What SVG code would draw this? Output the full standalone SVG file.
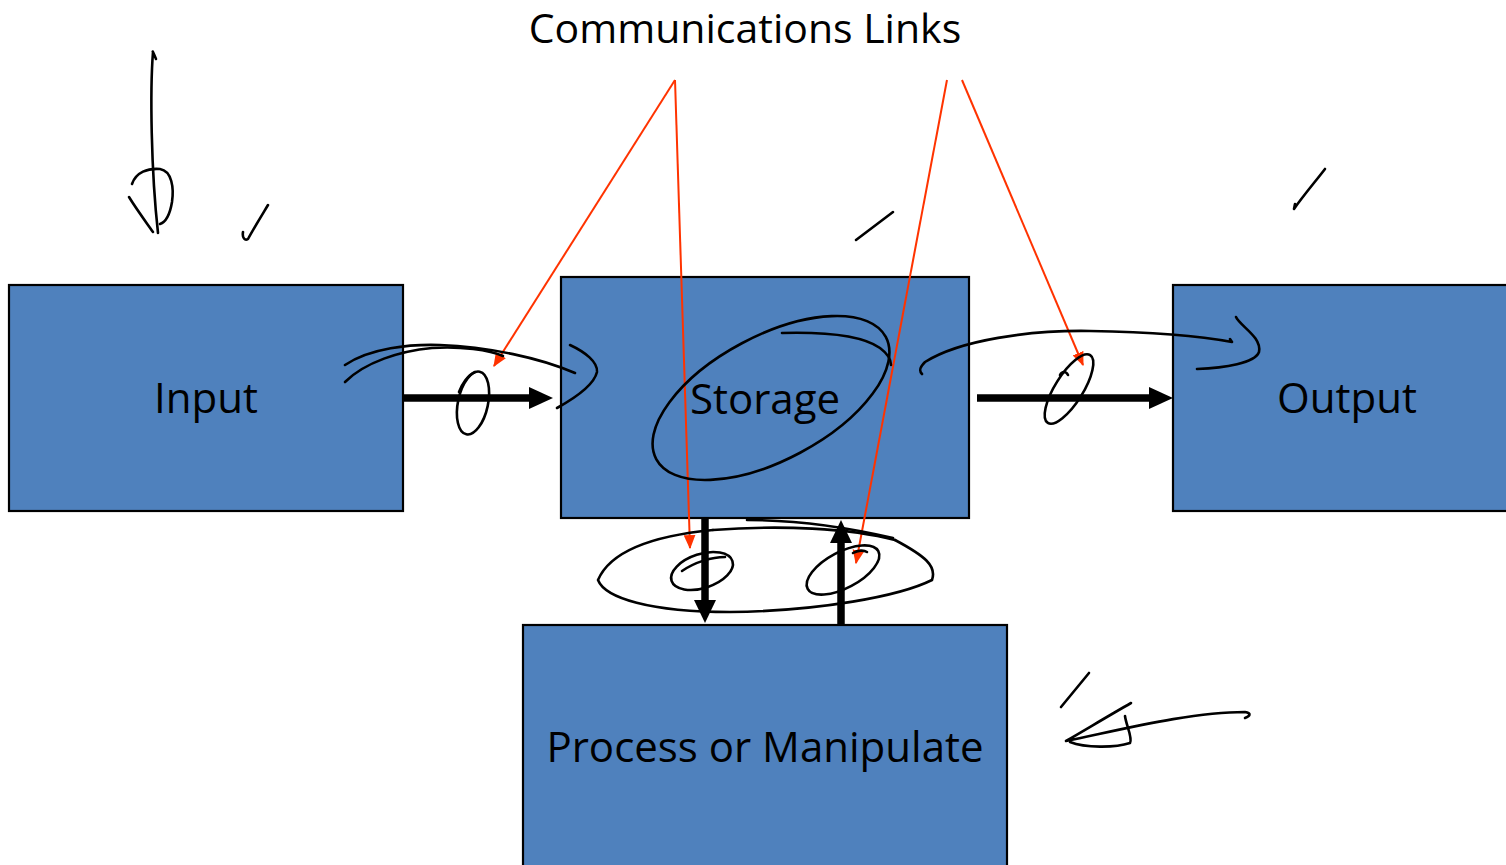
<svg xmlns="http://www.w3.org/2000/svg" width="1506" height="865" viewBox="0 0 1506 865">
  <style>
    .box { fill: #4F81BD; stroke: #000; stroke-width: 2.2; }
    .label { font-family: "Open Sans", "Liberation Sans", sans-serif; font-size: 42px; fill: #000; text-anchor: middle; }
    .title { font-family: "Open Sans", "Liberation Sans", sans-serif; font-size: 41px; fill: #000; text-anchor: middle; }
    .flow { stroke: #000; stroke-width: 7.5; fill: none; }
    .head { fill: #000; }
    .link { stroke: #FF3300; stroke-width: 2; fill: none; marker-end: url(#redhead); }
    .ink { stroke: #000; stroke-width: 2.6; fill: none; stroke-linecap: round; stroke-linejoin: round; }
  </style>
  <defs>
    <marker id="redhead" viewBox="0 0 12 10" refX="11" refY="5" markerWidth="7" markerHeight="6" markerUnits="strokeWidth" orient="auto">
      <path d="M0,0 L12,5 L0,10 Z" fill="#FF3300"/>
    </marker>
  </defs>
  <rect width="1506" height="865" fill="#fff"/>

  <g id="title">
    <text class="title" x="745" y="43">Communications Links</text>
  </g>

  <g id="input">
    <rect class="box" x="9" y="285" width="394" height="226"/>
    <text class="label" x="206" y="413">Input</text>
  </g>
  <g id="storage">
    <rect class="box" x="561" y="277" width="408" height="241"/>
    <text class="label" x="765" y="414">Storage</text>
  </g>
  <g id="output">
    <rect class="box" x="1173" y="285" width="340" height="226"/>
    <text class="label" x="1347" y="413">Output</text>
  </g>
  <g id="process">
    <rect class="box" x="523" y="625" width="484" height="250"/>
    <text class="label" x="765" y="762">Process or Manipulate</text>
  </g>

  <g id="connectors">
    <!-- data flow arrows -->
    <line class="flow" x1="403" y1="398" x2="531" y2="398"/>
    <path class="head" d="M529,387 L553,398 L529,409 Z"/>
    <line class="flow" x1="977" y1="398" x2="1151" y2="398"/>
    <path class="head" d="M1149,387 L1173,398 L1149,409 Z"/>
    <line class="flow" x1="705" y1="518" x2="705" y2="602"/>
    <path class="head" d="M694,600 L705,623 L716,600 Z"/>
    <line class="flow" x1="841" y1="625" x2="841" y2="541"/>
    <path class="head" d="M830,543 L841,520 L852,543 Z"/>
    <!-- callout lines -->
    <line class="link" x1="675" y1="80" x2="494" y2="366"/>
    <line class="link" x1="675" y1="80" x2="690" y2="548"/>
    <line class="link" x1="947" y1="80" x2="856" y2="563"/>
    <line class="link" x1="962" y1="80" x2="1083" y2="365"/>
  </g>

  <g id="annotations">
    <!-- top-left pen stroke -->
    <path class="ink" d="M156,59 C154,54 152,50 153,52 C150,90 151,170 158,233"/>
    <path class="ink" d="M132,184 C136,172 148,168 160,169 C172,171 174,188 172,202 C170,214 166,222 160,224"/>
    <path class="ink" d="M129,197 C137,210 146,222 153,232"/>
    <path class="ink" d="M243,232 C242,238 245,241 248,239 C254,228 262,215 268,205"/>
    <!-- ticks -->
    <path class="ink" d="M856,240 L893,212"/>
    <path class="ink" d="M1325,169 C1315,182 1303,196 1294,209 L1295,204"/>
    <!-- bottom-right stroke -->
    <path class="ink" d="M1089,673 L1061,707"/>
    <path class="ink" d="M1131,703 C1110,715 1085,730 1066,741 C1120,730 1190,712 1245,712 C1252,713 1250,716 1245,718"/>
    <path class="ink" d="M1125,716 C1126,725 1133,738 1130,743 C1115,748 1085,748 1070,742"/>
    <!-- input to storage marks -->
    <path class="ink" d="M345,365 C370,348 410,344 440,345 C490,347 540,358 575,373"/>
    <path class="ink" d="M345,382 C365,362 400,351 432,348 C460,346 490,350 503,356"/>
    <path class="ink" d="M570,345 C585,352 598,362 597,372 C594,385 575,398 557,408"/>
    <ellipse class="ink" cx="473" cy="403" rx="15" ry="32" transform="rotate(12 473 403)"/>
    <path class="ink" d="M475,372 C468,375 462,384 459,392"/>
    <!-- storage loop -->
    <ellipse class="ink" cx="771" cy="398" rx="130" ry="62" transform="rotate(-28 771 398)"/>
    <path class="ink" d="M782,333 C820,332 860,334 880,348 C888,354 891,360 891,365"/>
    <!-- storage to output marks -->
    <path class="ink" d="M922,374 C918,370 921,366 925,362 C960,340 1030,330 1090,331 C1150,332 1200,336 1232,342 L1230,339"/>
    <path class="ink" d="M1236,317 C1240,326 1262,337 1259,352 C1255,363 1225,368 1197,369"/>
    <ellipse class="ink" cx="1069" cy="389" rx="40" ry="14" transform="rotate(-58 1069 389)"/>
    <path class="ink" d="M1060,375 C1062,371 1066,371 1068,375"/>
    <!-- storage / process loop -->
    <path class="ink" d="M713,530 C650,536 610,552 598,580 C605,598 650,612 730,612 C820,611 900,596 932,580 C937,566 925,556 895,540"/>
    <path class="ink" d="M713,530 C780,525 850,528 895,540"/>
    <path class="ink" d="M747,520 C800,520 850,528 893,538"/>
    <ellipse class="ink" cx="702" cy="571" rx="32" ry="17" transform="rotate(-18 702 571)"/>
    <path class="ink" d="M682,571 C695,562 712,557 725,557"/>
    <ellipse class="ink" cx="843" cy="570" rx="40" ry="18" transform="rotate(-28 843 570)"/>
    <path class="ink" d="M853,553 C858,550 864,550 867,552"/>
  </g>
</svg>
